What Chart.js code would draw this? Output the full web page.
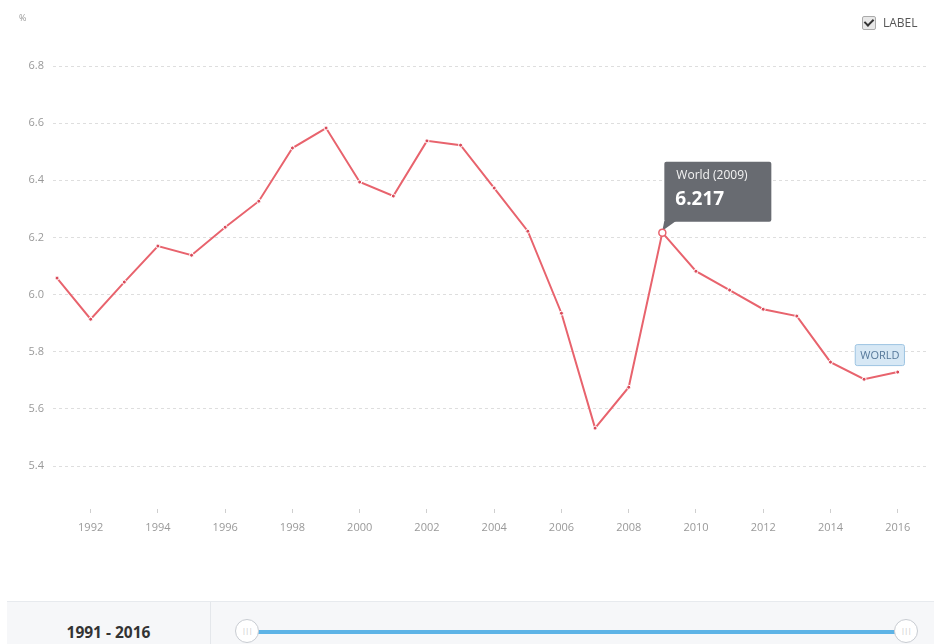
<!DOCTYPE html>
<html>
<head>
<meta charset="utf-8">
<script src="https://cdn.jsdelivr.net/npm/chart.js@4/dist/chart.umd.min.js"></script>
<style>
  html, body { margin:0; padding:0; background:#fff; width:934px; height:644px; overflow:hidden; font-family:"Open Sans", sans-serif; }
  #wrap { position:absolute; left:0; top:0; width:934px; height:560px; }
  #unit { position:absolute; left:19px; top:11px; font-size:9px; color:#999; }
  #lbl { position:absolute; left:862px; top:14px; font-size:12px; color:#555; display:flex; align-items:center; }
  #lbl .box { width:12px; height:12px; border:1px solid #aaa; border-radius:2px; background:#e8e8e8; margin-right:7px; position:relative; }
  #lbl .box:after { content:""; position:absolute; left:3px; top:0px; width:4px; height:7px; border:solid #333; border-width:0 2px 2px 0; transform:rotate(45deg); }
  #band { position:absolute; left:7px; top:601px; width:927px; height:50px; background:#f6f7f9; border-top:1px solid #e7eaee; }
  #range { position:absolute; left:0; top:0; width:203px; height:50px; border-right:1px solid #e4e7eb; text-align:center; font-weight:bold; font-size:15.5px; color:#333; line-height:60px; }
  #track { position:absolute; left:247px; top:28px; width:652px; height:4px; background:#5db3e6; }
  .handle { position:absolute; top:17px; width:24px; height:24px; border-radius:50%; background:#fff; border:1px solid #c8ccd2; box-sizing:border-box; font-size:7px; color:#bbb; text-align:center; line-height:22px; letter-spacing:-0.5px; }
</style>
</head>
<body>
<div id="wrap"><canvas id="c"></canvas></div>
<div id="unit">%</div>
<div id="lbl"><span class="box"></span>LABEL</div>
<div id="band">
  <div id="range">1991 - 2016</div>
  <div id="track"></div>
  <div class="handle" style="left:228px">|||</div>
  <div class="handle" style="left:887px">|||</div>
</div>
<script>
const years = [1991,1992,1993,1994,1995,1996,1997,1998,1999,2000,2001,2002,2003,2004,2005,2006,2007,2008,2009,2010,2011,2012,2013,2014,2015,2016];
const worldValues = [6.058,5.914,6.044,6.170,6.138,6.236,6.327,6.513,6.583,6.394,6.345,6.538,6.523,6.373,6.222,5.935,5.533,5.676,6.217,6.082,6.016,5.949,5.925,5.764,5.704,5.729];
const xTickYears = [1992,1994,1996,1998,2000,2002,2004,2006,2008,2010,2012,2014,2016];
const yTickValues = [5.4,5.6,5.8,6.0,6.2,6.4,6.6,6.8];
const seriesName = "World";
const seriesTag = "WORLD";
const highlightYear = 2009;

const hlIndex = years.indexOf(highlightYear);
const lineColor = '#e8636d';

const overlay = {
  id: 'overlay',
  afterDatasetsDraw(chart) {
    const ctx = chart.ctx;
    const meta = chart.getDatasetMeta(0);
    const last = meta.data[meta.data.length - 1];
    ctx.save();
    ctx.font = '11px "Open Sans"';
    const tw = ctx.measureText(seriesTag).width;
    const bw = tw + 10, bh = 21;
    const bx = last.x - 43, by = last.y - 28;
    ctx.fillStyle = '#d7e8f5';
    ctx.strokeStyle = '#9dc4e2';
    ctx.lineWidth = 1;
    ctx.beginPath();
    ctx.roundRect(bx + 0.5, by + 0.5, bw, bh, 2);
    ctx.fill(); ctx.stroke();
    ctx.fillStyle = '#56789a';
    ctx.textBaseline = 'middle';
    ctx.fillText(seriesTag, bx + 5.5, by + bh / 2 + 1);
    ctx.restore();

    const p = meta.data[hlIndex];
    const x = p.x, y = p.y;
    ctx.save();
    ctx.fillStyle = '#686b71';
    const tx = x + 2, ty = y - 71, tw2 = 107, th = 60;
    ctx.beginPath();
    ctx.roundRect(tx, ty, tw2, th, 2);
    ctx.fill();
    ctx.beginPath();
    ctx.moveTo(tx, ty + th - 1);
    ctx.lineTo(tx + 12, ty + th - 1);
    ctx.lineTo(x, y - 2);
    ctx.closePath();
    ctx.fill();
    ctx.fillStyle = '#f4f4f4';
    ctx.textBaseline = 'middle';
    ctx.font = '12px "Open Sans"';
    ctx.fillText(seriesName + ' (' + years[hlIndex] + ')', tx + 12, ty + 14);
    ctx.fillStyle = '#ffffff';
    ctx.font = 'bold 19px "Open Sans"';
    ctx.fillText(worldValues[hlIndex].toFixed(3), tx + 11, ty + 38);
    ctx.beginPath();
    ctx.arc(x, y, 3.5, 0, Math.PI * 2);
    ctx.fillStyle = '#fff';
    ctx.fill();
    ctx.lineWidth = 1.5;
    ctx.strokeStyle = lineColor;
    ctx.stroke();
    ctx.restore();
  }
};

new Chart(document.getElementById('c'), {
  type: 'line',
  data: {
    datasets: [{
      label: seriesName,
      data: years.map((yr, i) => ({ x: yr, y: worldValues[i] })),
      borderColor: lineColor,
      borderWidth: 2,
      pointRadius: 2,
      pointBorderWidth: 1,
      pointBorderColor: '#fff',
      pointBackgroundColor: '#d94a59',
      tension: 0,
      fill: false
    }]
  },
  options: {
    responsive: true,
    maintainAspectRatio: false,
    animation: false,
    events: [],
    layout: { padding: { top: 66, right: 2, left: 0, bottom: 11 } },
    plugins: { legend: { display: false }, tooltip: { enabled: false } },
    scales: {
      x: {
        type: 'linear',
        min: 1990.88,
        max: 2016.93,
        afterBuildTicks(scale) { scale.ticks = xTickYears.map(v => ({ value: v })); },
        afterFit(scale) { scale.height = 40; },
        border: { display: false },
        grid: { drawOnChartArea: false, drawTicks: true, tickLength: 4, color: '#cfcfcf' },
        ticks: { padding: 8, color: '#999', font: { family: '"Open Sans"', size: 11 }, callback: v => String(v), maxRotation: 0 }
      },
      y: {
        min: 5.25,
        max: 6.8,
        afterBuildTicks(scale) { scale.ticks = yTickValues.map(v => ({ value: v })); },
        afterFit(scale) { scale.width = 53; },
        border: { display: false, dash: [3, 3] },
        grid: { drawTicks: false, color: '#dedede', lineWidth: 1 },
        ticks: { padding: 9, color: '#999', font: { family: '"Open Sans"', size: 11 }, callback: v => Number(v).toFixed(1) }
      }
    }
  },
  plugins: [overlay]
});
</script>
</body>
</html>
